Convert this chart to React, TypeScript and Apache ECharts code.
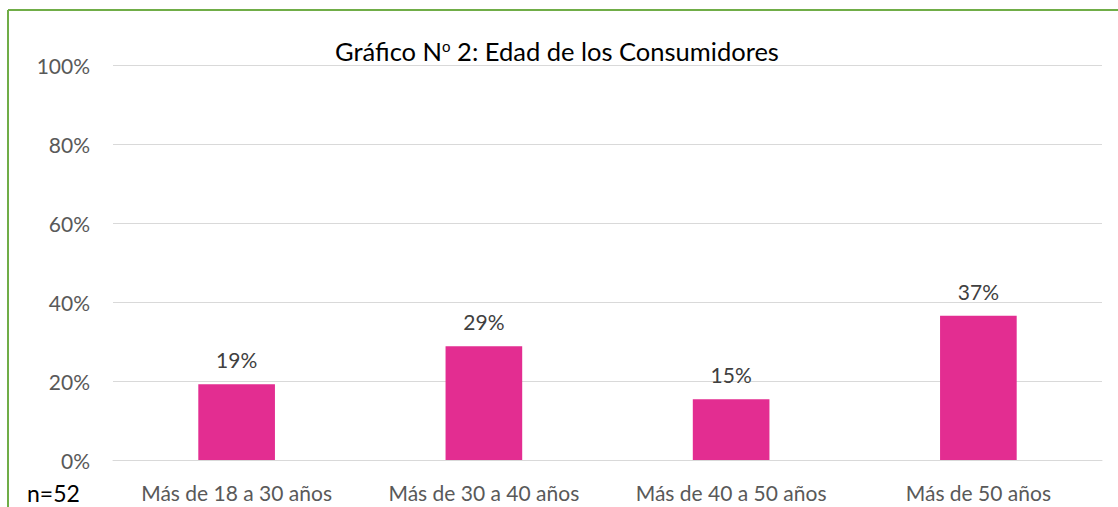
import React, { useEffect, useRef } from "react";
import * as echarts from "echarts";

const categories = ["Más de 18 a 30 años", "Más de 30 a 40 años", "Más de 40 a 50 años", "Más de 50 años"];
const values = [0.192, 0.288, 0.154, 0.365];
const yTicks = [0, 0.2, 0.4, 0.6, 0.8, 1.0];
const titleText = "Gráfico N{sup|o} 2: Edad de los Consumidores";
const noteText = "n=52";

const FONT = "Lato, 'Open Sans', sans-serif";

export default function App() {
  const ref = useRef<HTMLDivElement>(null);
  useEffect(() => {
    if (!ref.current) return;
    const chart = echarts.init(ref.current, null, { renderer: "svg" });
    chart.setOption({
      animation: false,
      backgroundColor: "#ffffff",
      textStyle: { fontFamily: FONT },
      grid: { left: 113, right: 16, top: 65, bottom: 47, containLabel: false },
      title: {
        text: titleText,
        left: 552,
        textAlign: "center",
        top: 33,
        textStyle: {
          fontFamily: FONT,
          fontSize: 25.5,
          fontWeight: "normal",
          color: "#000000",
          rich: {
            sup: { fontSize: 15, verticalAlign: "top", color: "#000000", fontFamily: FONT, padding: [0, 0, 10, 0] },
          },
        },
      },
      xAxis: {
        type: "category",
        data: categories,
        axisLine: { show: true, lineStyle: { color: "#d9d9d9", width: 1 } },
        axisTick: { show: false },
        axisLabel: { color: "#595959", fontSize: 21, margin: 22, fontFamily: FONT, interval: 0, hideOverlap: false },
      },
      yAxis: {
        type: "value",
        min: 0,
        max: 1,
        interval: 0.2,
        axisLine: { show: false },
        axisTick: { show: false },
        splitLine: { lineStyle: { color: "#d9d9d9", width: 1 } },
        axisLabel: {
          color: "#595959",
          fontSize: 21,
          margin: 23,
          fontFamily: FONT,
          formatter: (v: number) => {
            const t = yTicks.find((x) => Math.abs(x - v) < 1e-6);
            return Math.round((t ?? v) * 100) + "%";
          },
        },
      },
      series: [
        {
          type: "bar",
          data: values,
          barWidth: "31%",
          itemStyle: { color: "#E32D91" },
          label: {
            show: true,
            position: "top",
            distance: 14,
            color: "#404040",
            fontSize: 21,
            fontFamily: FONT,
            formatter: (p: any) => Math.round(p.value * 100) + "%",
          },
        },
      ],
      graphic: [
        { type: "line", shape: { x1: 8, y1: 10, x2: 1118, y2: 10 }, style: { stroke: "#70AD47", lineWidth: 2 } },
        { type: "line", shape: { x1: 8, y1: 10, x2: 8, y2: 507 }, style: { stroke: "#70AD47", lineWidth: 2 } },
        {
          type: "text",
          left: 27,
          top: 481,
          style: { text: noteText, fontSize: 23, fill: "#000000", fontFamily: FONT },
        },
      ],
    });
    return () => chart.dispose();
  }, []);
  return (
    <div
      ref={ref}
      style={{ position: "fixed", left: 0, top: 0, width: 1118, height: 507 }}
    />
  );
}
